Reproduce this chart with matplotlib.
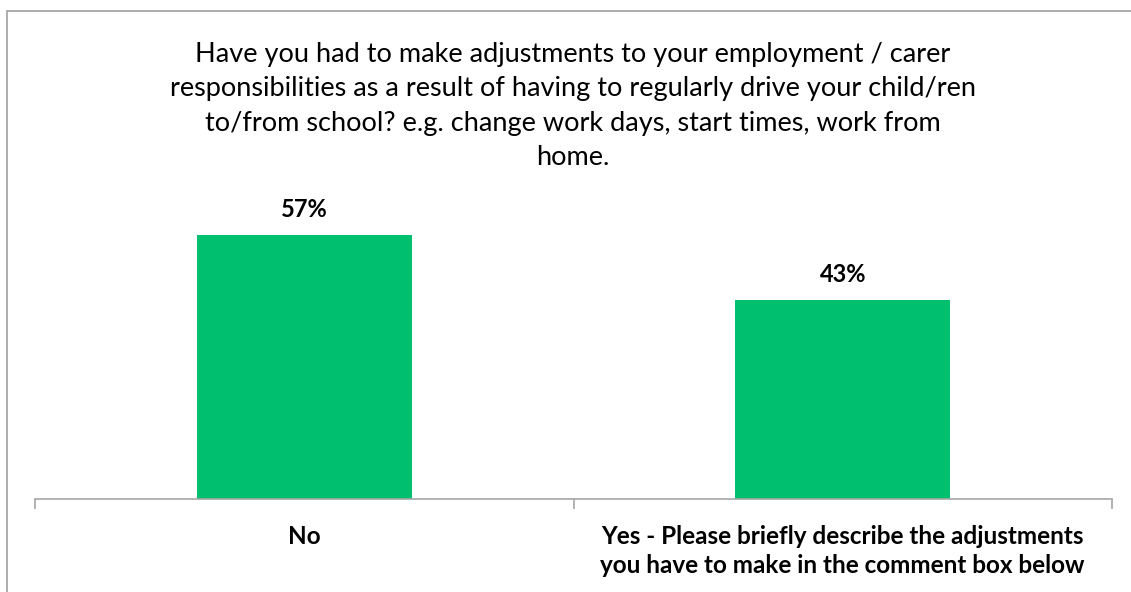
import matplotlib.pyplot as plt
from matplotlib.patches import Rectangle

# chart data
categories = ["No", "Yes - Please briefly describe the adjustments\nyou have to make in the comment box below"]
percent = [57, 43]
title = ("Have you had to make adjustments to your employment / carer\n"
         "responsibilities as a result of having to regularly drive your child/ren\n"
         "to/from school? e.g. change work days, start times, work from\n"
         "home.")

bar_color = "#00C06F"
axis_color = "#A6A6A6"

plt.rcParams['font.family'] = ['Lato', 'DejaVu Sans']

W, H = 1131, 592
fig = plt.figure(figsize=(W / 100, H / 100), dpi=100)

# outer chart border (runs off the right/bottom edge like the screenshot)
fig.patches.append(Rectangle((7 / W, -0.05), 1.2, 1 - 11 / H + 0.05,
                             transform=fig.transFigure, fill=False,
                             edgecolor="#A0A0A0", linewidth=1.2))

ax = fig.add_axes([35 / W, (H - 499) / H, 1077 / W, 299 / H])
x = list(range(len(categories)))
bars = ax.bar(x, percent, width=0.4, color=bar_color)
ax.set_xlim(-0.5, len(categories) - 0.5)
ax.set_ylim(0, 57 * 299 / 264)

for b, v in zip(bars, percent):
    ax.annotate(f"{v}%", (b.get_x() + b.get_width() / 2, v),
                xytext=(0, 10), textcoords="offset points",
                ha="center", va="bottom", fontsize=17, fontweight="bold")

for s in ["top", "right", "left"]:
    ax.spines[s].set_visible(False)
ax.spines["bottom"].set_color(axis_color)
ax.spines["bottom"].set_linewidth(1.2)
ax.set_yticks([])

ax.set_xticks([i - 0.5 for i in range(len(categories) + 1)])
ax.set_xticklabels([])
ax.tick_params(axis="x", which="major", length=7, width=1.2, color=axis_color)
ax.set_xticks(x, minor=True)
ax.set_xticklabels(categories, minor=True, fontsize=17.5, fontweight="bold",
                   linespacing=1.28)
ax.tick_params(axis="x", which="minor", length=0, pad=19)

fig.text(573 / W, 1 - 106 / H, title, ha="center", va="center",
         fontsize=19.5, linespacing=1.48)

fig.savefig("out.png", dpi=100)
